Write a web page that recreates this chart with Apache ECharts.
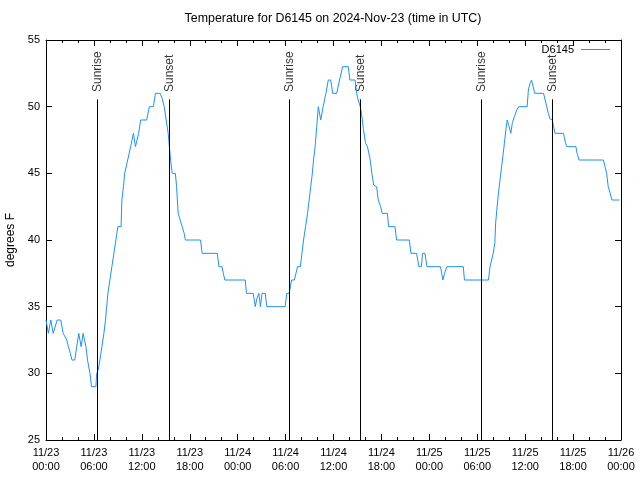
<!DOCTYPE html>
<html>
<head>
<meta charset="utf-8">
<script src="https://cdn.jsdelivr.net/npm/echarts@6/dist/echarts.min.js"></script>
<style>html,body{margin:0;padding:0;background:#fff}#c{width:640px;height:480px}</style>
</head>
<body>
<div id="c"></div>
<script>
// hours since 2024-11-23 00:00 UTC, temperature (deg F)
const tempReadings = [
[0.0,34],[0.3,33],[0.6,34],[0.9,33],[1.15,33],[1.4,34],[1.85,34],[2.15,33],[2.4,33],[2.6,32.5],
[2.8,32],[3.05,31.5],[3.25,31],[3.6,31],[3.85,32],[4.1,33],[4.25,33],[4.4,32],[4.65,33],[4.85,33],
[5.0,32],[5.2,31],[5.5,30],[5.7,29],[6.25,29],[6.35,30],[6.55,30.3],[6.75,31],[7.0,32],[7.25,33],
[7.45,34],[7.6,35],[7.75,36],[8.0,37],[8.25,38],[8.5,39],[8.75,40],[9.0,41],[9.4,41],[9.5,43],
[9.7,44],[9.85,45],[10.1,45],[10.6,47],[10.95,48],[11.2,47],[11.45,47],[11.6,48],[11.85,49],[12.6,49],
[12.95,50],[13.45,50],[13.7,51],[14.3,51],[14.55,50.6],[14.8,50],[15.05,49],[15.3,48],[15.45,47],[15.6,46],
[15.8,45],[16.2,45],[16.35,44],[16.55,42],[16.8,41.5],[17.05,41],[17.3,40.5],[17.45,40],[19.35,40],[19.55,39],
[21.45,39],[21.65,38],[22.05,38],[22.2,37.5],[22.4,37],[24.95,37],[25.1,36],[25.95,36],[26.2,35],[26.4,35.6],
[26.65,36],[26.85,35],[27.05,36],[27.45,36],[27.65,35],[29.95,35],[30.15,36],[30.45,36],[30.75,37],[31.1,37],
[31.5,38],[31.85,38],[32.05,39],[32.25,40],[32.5,41],[32.75,42],[32.95,43],[33.15,44],[33.35,45],[33.5,46],
[33.7,47],[33.9,48.5],[34.1,50],[34.4,49],[34.7,50],[35.05,51],[35.35,52],[35.65,52],[35.9,51],[36.4,51],
[36.75,52],[37.15,53],[37.85,53],[38.05,52],[38.7,52],[38.9,51],[39.1,50.5],[39.35,50],[39.55,49.3],[39.75,48.3],
[40.0,47.3],[40.25,47],[40.5,47],[40.6,46],[40.8,45],[41.05,44.1],[41.4,44],[41.6,43],[41.9,42.5],[42.1,42],
[42.75,42],[42.9,41],[43.7,41],[43.9,40],[45.5,40],[45.7,39],[46.4,39],[46.7,38],[47.0,38],[47.15,39],
[47.45,39],[47.7,38],[49.4,38],[49.55,37.5],[49.7,37],[49.9,37.5],[50.2,38],[52.25,38],[52.4,37],[55.4,37],
[55.6,38],[55.8,38.5],[56.0,39],[56.2,39.75],[56.3,41.25],[56.45,42.25],[56.65,43.5],[56.85,44.5],[57.05,45.5],[57.25,46.5],
[57.4,47.25],[57.55,48.1],[57.75,49],[57.8,49],[58.0,48.5],[58.2,48],[58.4,48.8],[58.65,49.25],[58.95,49.75],[59.2,50],
[60.25,50],[60.4,51.25],[60.6,51.75],[60.8,52],[61.0,51.5],[61.2,51],[62.3,51],[62.5,50.5],[62.7,50],[62.9,49.5],
[63.1,49.1],[63.4,49],[63.55,48.5],[63.75,48],[64.8,48],[64.9,47.7],[65.05,47.3],[65.2,47],[66.35,47],[66.5,46.5],
[66.75,46],[69.8,46],[70.0,45.5],[70.2,45],[70.4,44],[70.65,43.5],[70.85,43],[71.8,43]
];
const sunTimes = [6.42, 15.44, 30.47, 39.36, 54.51, 63.41];
const sunLabels = ['Sunrise','Sunset','Sunrise','Sunset','Sunrise','Sunset'];
const sunLineTop = 50.55;
const sunLabelBase = 51.1;
const xTickLabels = ['11/23\n00:00','11/23\n06:00','11/23\n12:00','11/23\n18:00','11/24\n00:00','11/24\n06:00','11/24\n12:00','11/24\n18:00','11/25\n00:00','11/25\n06:00','11/25\n12:00','11/25\n18:00','11/26\n00:00'];
const seriesName = 'D6145';
const titleText = 'Temperature for D6145 on 2024-Nov-23 (time in UTC)';

const FONT = "'Liberation Sans', Arial, sans-serif";
const chart = echarts.init(document.getElementById('c'), null, {renderer:'canvas'});
const axisCommon = {
  axisLine:{show:true, onZero:false, lineStyle:{color:'#000', width:1}},
  axisTick:{show:true, inside:true, length:6, lineStyle:{color:'#000'}},
  splitLine:{show:false}
};
chart.setOption({
  backgroundColor:'#fff',
  animation:false,
  title:{text:titleText, left:333, top:13, textAlign:'center', padding:0,
    textStyle:{fontFamily:FONT, fontSize:12.4, fontWeight:'normal', color:'#000'}},
  legend:{data:[seriesName], right:30, top:44, padding:0, itemGap:0, align:'right', icon:'rect', itemWidth:29, itemHeight:1,
    textStyle:{fontFamily:FONT, fontSize:11, color:'#000', padding:[0,2,0,0]}},
  grid:{left:46, right:19, top:40, bottom:40, containLabel:false, outerBoundsMode:'none'},
  xAxis:[
    Object.assign({type:'value', min:0, max:72, interval:6, position:'bottom',
      minorTick:{show:true, splitNumber:3, length:3, lineStyle:{color:'#000'}},
      axisLabel:{show:true, margin:6, fontFamily:FONT, fontSize:11, lineHeight:14, color:'#000',
        formatter:(v)=>xTickLabels[Math.round(v/6)]}}, axisCommon),
    Object.assign({type:'value', min:0, max:72, interval:6, position:'top',
      minorTick:{show:true, splitNumber:3, length:3, lineStyle:{color:'#000'}},
      axisLabel:{show:false}}, axisCommon)
  ],
  yAxis:[
    Object.assign({type:'value', min:25, max:55, interval:5, position:'left',
      name:'degrees F', nameLocation:'middle', nameGap:26, nameRotate:90,
      nameTextStyle:{fontFamily:FONT, fontSize:12, color:'#000'},
      axisLabel:{show:true, margin:6, fontFamily:FONT, fontSize:11, color:'#000'}}, axisCommon),
    Object.assign({type:'value', min:25, max:55, interval:5, position:'right',
      axisLabel:{show:false}}, axisCommon)
  ],
  series:[
    {name:seriesName, type:'line', data:tempReadings, showSymbol:false, symbol:'none',
      lineStyle:{color:'#1e90ff', width:1}, itemStyle:{color:'#1e90ff'},
      markLine:{silent:true, symbol:['none','none'], label:{show:false},
        lineStyle:{color:'#000', width:1, type:'solid'},
        data: sunTimes.map(t=>[{coord:[t,25]},{coord:[t,sunLineTop]}])}
    },
    {name:'sunlabels', type:'scatter', symbolSize:0, silent:true,
      data: sunTimes.map((t,i)=>({value:[t,sunLabelBase], label:{formatter:sunLabels[i]}})),
      label:{show:true, position:'inside', rotate:90, align:'left', verticalAlign:'middle',
        fontFamily:FONT, fontSize:12, color:'#000'}
    }
  ]
});
</script>
</body>
</html>
